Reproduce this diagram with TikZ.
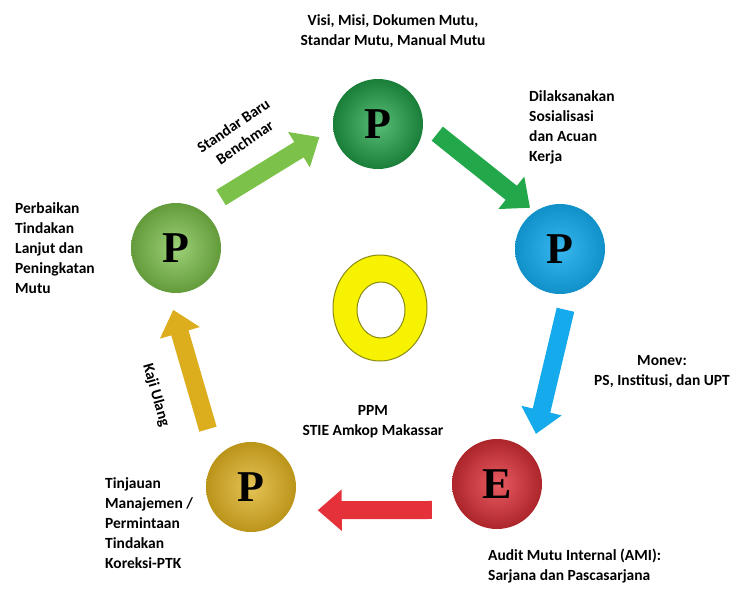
\documentclass[tikz,border=0pt]{standalone}
\usepackage{fontspec}
\setmainfont{Carlito}
\newfontfamily\letterfont{Liberation Serif}
\usetikzlibrary{arrows.meta}

\definecolor{topgreen}{HTML}{22A84A}
\definecolor{leafgreen}{HTML}{7CC24A}
\definecolor{skyblue}{HTML}{14AAEC}
\definecolor{auditred}{HTML}{E5323A}
\definecolor{goldyellow}{HTML}{DCAE1E}
\definecolor{ringyellow}{HTML}{F6F200}
\definecolor{ringedge}{HTML}{8A8A18}

\begin{document}
\begin{tikzpicture}[x=1pt, y=-1pt,
    ball/.style={circle, minimum size=90pt, inner sep=0pt,
        font=\letterfont\bfseries\fontsize{44}{44}\selectfont},
    flow/.style={line width=18pt, -{Triangle[length=24pt,width=40pt]}},
    lbl/.style={font=\bfseries\fontsize{15.5}{20}\selectfont, inner sep=0pt}]
    \useasboundingbox (0,0) rectangle (742,590);
    % Cycle circles
    \node[ball, inner color=topgreen!75!white, outer color=topgreen!75!black] (tp) at (378,124) {P};
    \node[ball, inner color=skyblue!85!white, outer color=skyblue!85!black] (rp) at (560,249) {P};
    \node[ball, inner color=auditred!80!white, outer color=auditred!75!black] (ep) at (497,484) {E};
    \node[ball, inner color=goldyellow!75!white, outer color=goldyellow!85!black] (yp) at (251,487) {P};
    \node[ball, inner color=leafgreen!75!white, outer color=leafgreen!80!black] (lp) at (176,248) {P};
    % Centre ring
    \draw[draw=ringedge, fill=ringyellow, even odd rule, line width=1pt]
        (380,308) ellipse [x radius=47, y radius=53]
        (381,310) ellipse [x radius=24, y radius=28];
    % Arrows
    \draw[flow, leafgreen, shorten <=24pt, shorten >=16pt] (lp.57) -- (tp.186);
    \draw[flow, topgreen, shorten <=18pt, shorten >=6pt] (tp.2) -- (rp.124);
    \draw[flow, skyblue, shorten <=17pt, shorten >=21pt] (rp.-78) -- (ep.41);
    \draw[flow, auditred, shorten <=28pt, shorten >=28pt] (ep.215) -- (yp.-31);
    \draw[flow, goldyellow, shorten <=30pt, shorten >=18pt] (yp.140) -- (lp.-100);
    % Arrow labels
    \node[lbl, align=center, rotate=34] (bench) at (239,134) {Standar Baru\\Benchmar};
    \node[lbl, rotate=-74] (kaji) at (156,395) {Kaji Ulang};
    % Step texts
    \node[lbl, align=center] (vision) at (393,31) {Visi, Misi, Dokumen Mutu,\\Standar Mutu, Manual Mutu};
    \node[lbl, align=left, anchor=west] (execute) at (529,127) {Dilaksanakan\\Sosialisasi\\dan Acuan\\Kerja};
    \node[lbl, align=center] (monev) at (662,372) {Monev:\\PS, Institusi, dan UPT};
    \node[lbl, align=left, anchor=west] (audit) at (488,566) {Audit Mutu Internal (AMI):\\Sarjana dan Pascasarjana};
    \node[lbl, align=left, anchor=west] (review) at (105,523) {Tinjauan\\Manajemen /\\Permintaan\\Tindakan\\Koreksi-PTK};
    \node[lbl, align=left, anchor=west] (improve) at (15,248) {Perbaikan\\Tindakan\\Lanjut dan\\Peningkatan\\Mutu};
    % Centre caption
    \node[lbl, align=center] (ppm) at (373,422) {PPM\\STIE Amkop Makassar};
\end{tikzpicture}
\end{document}
